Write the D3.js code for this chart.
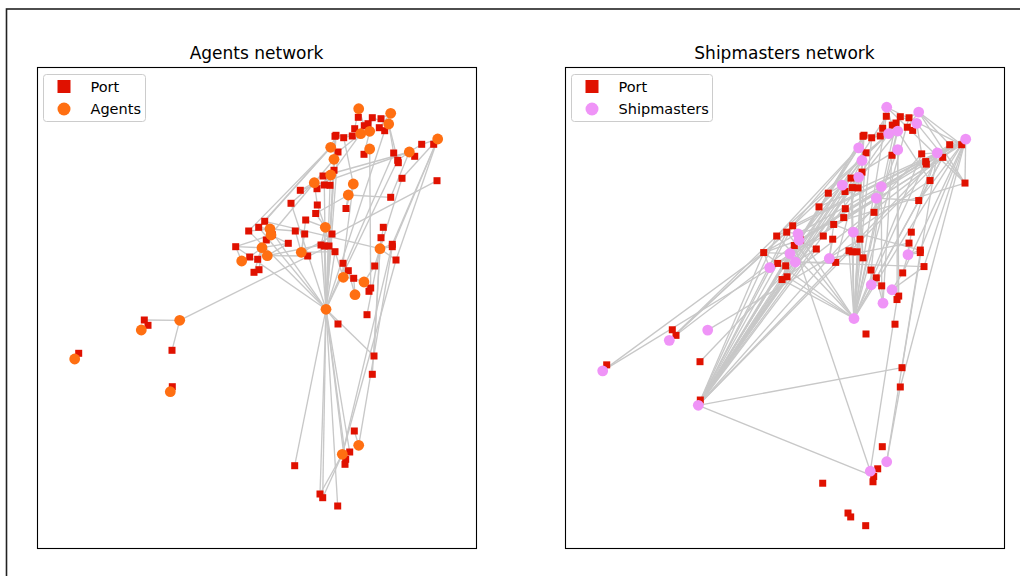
<!DOCTYPE html>
<meta charset="utf-8">
<script src="https://d3js.org/d3.v7.min.js"></script>
<style>
  body { margin: 0; background: #fff; }
  text { font-family: "DejaVu Sans", sans-serif; }
</style>
<svg id="chart" width="1020" height="576"></svg>
<script>

// node positions, grid east / north (same grid for both networks)
var ports = [
  [321.3,430.7],[335.3,430.3],[344,429.3],[331,424.3],[327.3,422.3],[317.7,419.3],[342.3,420.3],[347.7,417.3],[298,411.7],[299,412.7],
  [306.7,410.3],[315.3,412],[384.7,403.7],[396.7,403.7],[301,396],[327,393.7],[356.7,395],[360.7,387.7],[361.3,385.3],[377.7,391.7],
  [365,369.7],[400,367.3],[297,377.7],[286,372],[287.3,363],[293,362.7],[263.3,357.7],[280,359.3],[254,344.7],[280.3,343],
  [278.7,334.5],[309,339.5],[353.7,350.7],[227.7,326.7],[221.7,320.7],[211.7,317],[268.7,328],[258.3,317],[267.7,314],[235.3,313.3],
  [229.3,308],[198.7,301.3],[251.3,304.7],[295,314],[346.3,320.7],[344,310.3],[355.3,303.7],[355.3,301.3],[284,303],[287.3,302],
  [292,302],[298,296.3],[212.7,291],[220.7,288.7],[270.7,292],[359,288],[222,278.3],[217,275.7],[306,284.7],[311.3,277.3],
  [337.7,282],[316.7,269.7],[333.7,260],[332,256.7],[301,224],[330,233.3],[107.3,228],[111,222.7],[41.7,194.7],[135,197.7],
  [135.3,161.3],[337,192],[335.3,173.7],[317.3,117],[312.7,96],[308.7,88.7],[308,83.7],[257.7,82.3],[283,54],[285.7,50.3],
  [300.7,42]
]

// agents and shipmasters sit on the same spots
var people = [
  [321.7,439.3],[353.7,434.7],[351.7,424],[323.7,414.3],[332.7,416.7],[400.7,409],[293.7,400.7],[332.7,399],[372.3,396],[297,388.7],
  [293.7,373],[277.3,365.3],[316.3,364],[311.3,353],[233,319],[234,313],[288.3,320.7],[225,300.3],[230.3,292.3],[204.7,287],
  [264.3,295.7],[343,299.3],[306.3,270.7],[327,266],[318,253.3],[289,238.7],[142.7,227.7],[104.3,218],[37.7,189],[133.3,156.3],
  [321.7,102.7],[305.3,93.7]
]

// links: person number -> port numbers (1-based)
var agentLinks = [
  [1,[1,6,5]], [2,[3,8,7]], [3,[2,8,17,18]], [4,[9,11,15,23,4]], [5,[12,16,2,4]],
  [6,[14,13,21,48,56,47]], [7,[10,15,34,35,36]], [8,[16,63]], [9,[20,18,13,24,33,27]],
  [10,[15,23,41]], [11,[24,25,26,28]], [12,[27,28,29,30]], [13,[32,11,59]], [14,[32,33,31]],
  [15,[34,35,36,40,38]], [16,[41,42,40,43]], [17,[44,51,49,50,31,30,37]],
  [18,[42,53,54,57,58,43]], [19,[43,55,49]], [20,[53,42]], [21,[39,37,55,52,38,22]],
  [22,[47,48,56,45,46,61,34,21,66,72,73]], [23,[59,60,62,52]], [24,[63,64,61,62]], [25,[62,60]],
  [26,[78,79,80,81,76,77,75,65,72,49,50,51,52,44,10,9,15,23,25,26,34,35,36,42,17,18,8,29]],
  [27,[67,70,51]], [28,[68]], [29,[69]], [30,[71]], [31,[74,48]], [32,[76,47,56,79,80]]
]

var shipmasterLinks = [
  [1,[1,5,6,14,22,12]], [2,[3,7,14,22,13]], [3,[2,8,22,17]], [4,[9,11,4,15,34,36]],
  [5,[12,16,2,21,25]], [6,[14,13,22,20,33,56,47,61,19,73,34,36,42,40,57]], [7,[10,15,35,36,40,27]],
  [8,[16,32,63,64,24]], [9,[20,17,18,33,29,45,72,41]], [10,[15,23,41,38]], [11,[24,26,28,55,52]],
  [12,[27,29,30,54]], [13,[32,59,62]], [14,[31,32,33,37]], [15,[34,35,40,22]],
  [16,[41,42,43,13]], [17,[44,51,37,47,21]], [18,[42,53,57,58,20]], [19,[43,55,56,70]],
  [20,[53,42,14]], [21,[39,37,55,46]], [22,[47,48,45,46,61]], [23,[59,60,62]],
  [24,[63,64,61,56]], [25,[62,60,16]],
  [26,[1,2,3,4,9,10,11,15,17,18,23,24,25,34,35,36,42,49,50,52,57,58,13,14,20]],
  [27,[44]], [28,[68,35,36,34,40]], [29,[69,42,38]],
  [30,[71,72,76,1,9,10,15,23,24,25,27,29,34,35,36,40,41,42,43,57,58,53,26,28,13,17,20,4]],
  [31,[73,48]], [32,[41,64]]
]

var titles = ["Agents network", "Shipmasters network"]
var legendLabels = [["Port", "Agents"], ["Port", "Shipmasters"]]

var portColor = "#e01100"
var personColors = ["#ff6f12", "#ef94f7"]

var svg = d3.select("#chart")

// figure frame
svg.append("rect")
  .attr("x", 6.5).attr("y", 9)
  .attr("width", 1100).attr("height", 700)
  .attr("fill", "none").attr("stroke", "#222").attr("stroke-width", 1.6)

function drawPanel(i, left, yDomain, links) {
  var x = d3.scaleLinear().domain([0, 439]).range([left, left + 439])
  var y = d3.scaleLinear().domain(yDomain).range([548, 67])
  var g = svg.append("g")

  var edges = []
  links.forEach(function(l) {
    l[1].forEach(function(p) { edges.push([people[l[0] - 1], ports[p - 1]]) })
  })

  g.selectAll("line.edge")
    .data(edges)
    .join("line")
      .attr("class", "edge")
      .attr("x1", function(d){ return x(d[0][0]) })
      .attr("y1", function(d){ return y(d[0][1]) })
      .attr("x2", function(d){ return x(d[1][0]) })
      .attr("y2", function(d){ return y(d[1][1]) })
      .attr("stroke", "#c8c8c8")
      .attr("stroke-width", 1.35)

  g.selectAll("rect.port")
    .data(ports)
    .join("rect")
      .attr("class", "port")
      .attr("x", function(d){ return x(d[0]) - 3.5 })
      .attr("y", function(d){ return y(d[1]) - 3.5 })
      .attr("width", 7).attr("height", 7)
      .attr("fill", portColor)

  g.selectAll("circle.person")
    .data(people)
    .join("circle")
      .attr("class", "person")
      .attr("cx", function(d){ return x(d[0]) })
      .attr("cy", function(d){ return y(d[1]) })
      .attr("r", 5.4)
      .attr("fill", personColors[i])

  // axes box
  g.append("rect")
    .attr("x", left + 0.5).attr("y", 67.5)
    .attr("width", 439).attr("height", 481)
    .attr("fill", "none").attr("stroke", "#000").attr("stroke-width", 1.1)

  g.append("text")
    .attr("x", left + 219.5).attr("y", 58.5)
    .attr("text-anchor", "middle")
    .style("font-size", "17px")
    .text(titles[i])

  // legend
  var lw = i == 0 ? 102 : 141
  var lg = g.append("g").attr("transform", "translate(" + (left + 6.5) + ",74.5)")
  lg.append("rect")
    .attr("width", lw).attr("height", 47).attr("rx", 3)
    .attr("fill", "#fff").attr("fill-opacity", 0.8)
    .attr("stroke", "#cccccc")
  lg.append("rect")
    .attr("x", 14).attr("y", 5.5).attr("width", 13).attr("height", 13)
    .attr("fill", portColor)
  lg.append("circle")
    .attr("cx", 20.5).attr("cy", 34.5).attr("r", 6.5)
    .attr("fill", personColors[i])
  lg.selectAll("text")
    .data(legendLabels[i])
    .join("text")
      .attr("x", 47)
      .attr("y", function(d, k){ return 17 + k * 22 })
      .style("font-size", "14.5px")
      .text(function(d){ return d })
}

drawPanel(0, 37, [0, 481], agentLinks)
drawPanel(1, 565, [20.8, 477.5], shipmasterLinks)

</script>
